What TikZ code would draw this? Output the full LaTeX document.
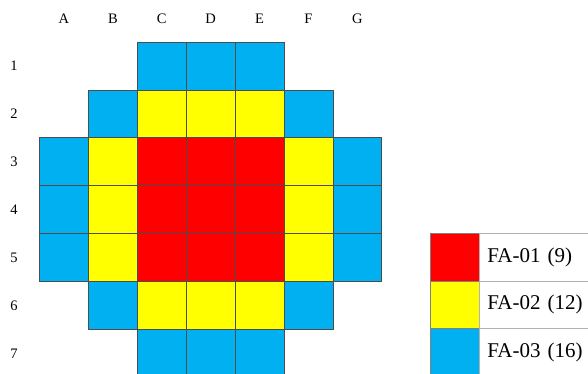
\documentclass[tikz,border=0pt]{standalone}
\usepackage{fontspec}
\setmainfont{Liberation Serif}
\usetikzlibrary{positioning}
\definecolor{fa1}{RGB}{255,0,0}
\definecolor{fa2}{RGB}{255,255,0}
\definecolor{fa3}{RGB}{0,176,240}
\begin{document}
\begin{tikzpicture}[
  x=1pt, y=-1pt,
  cell/.style={draw=black!70, line width=0.75pt, minimum width=48.9pt, minimum height=47.9pt,
    inner sep=0pt, outer sep=0pt, anchor=north west},
  lbl/.style={font=\fontsize{14.5}{16}\selectfont},
  keybox/.style={cell, draw=black!50, minimum width=49.3pt},
  keytxt/.style={draw=black!30, line width=0.7pt, minimum height=47.9pt, text width=114pt,
    inner xsep=8pt, inner ysep=0pt, outer sep=0pt, align=left, anchor=north west,
    font=\fontsize{21}{24}\selectfont}
]
\useasboundingbox (0,0) rectangle (588,374);
\clip (0,0) rectangle (588,374);

% core map, 0 = empty
\foreach \codes [count=\j] in {{0,0,3,3,3,0,0},{0,3,2,2,2,3,0},{3,2,1,1,1,2,3},
    {3,2,1,1,1,2,3},{3,2,1,1,1,2,3},{0,3,2,2,2,3,0},{0,0,3,3,3,0,0}}
  \foreach \t [count=\i] in \codes {
    \ifnum\t>0
      \node[cell, fill=fa\t] (c-\j-\i) at ({39.5+(\i-1)*48.9},{42+(\j-1)*47.9}) {};
    \fi
  };

% axis labels
\foreach \l [count=\i] in {A,B,C,D,E,F,G}
  \node[lbl] (col-\l) at ({39.5+(\i-0.5)*48.9},19) {\l};
\foreach \j in {1,...,7}
  \node[lbl] (row-\j) at (14,{42+(\j-0.5)*47.9}) {\j};

% legend
\node[keybox, fill=fa1] (k1) at (430,233) {};
\node[keybox, fill=fa2] (k2) at (k1.south west) {};
\node[keybox, fill=fa3] (k3) at (k2.south west) {};
\node[keytxt] (t1) at (k1.north east) {FA-01 (9)};
\node[keytxt] (t2) at (k2.north east) {FA-02 (12)};
\node[keytxt] (t3) at (k3.north east) {FA-03 (16)};
\end{tikzpicture}
\end{document}
